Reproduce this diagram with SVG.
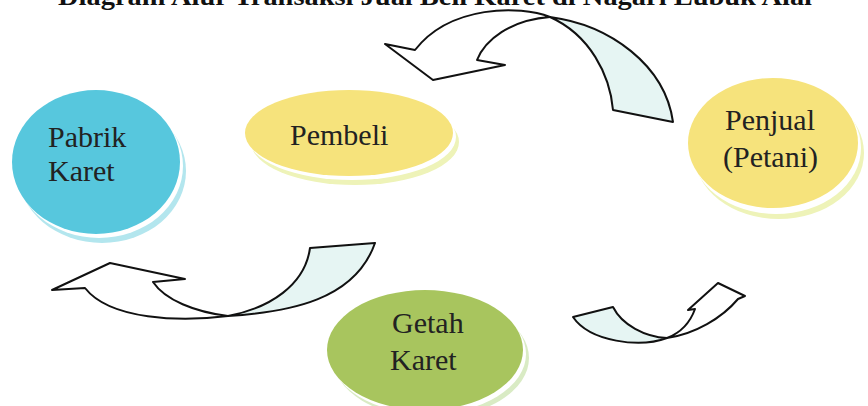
<svg xmlns="http://www.w3.org/2000/svg" width="868" height="406" viewBox="0 0 868 406">
<style>
.lbl{font-family:"Liberation Serif","Times New Roman",serif;font-size:30px;fill:#222}
.title{font-family:"Liberation Serif","Times New Roman",serif;font-size:26px;font-weight:bold;fill:#111}
.arr{stroke:#111;stroke-width:2;stroke-linejoin:round}
.back{fill:#e6f5f3}
.front{fill:#ffffff}
.gap{fill:#ffffff}
</style>
<rect width="868" height="406" fill="#ffffff"/>
<text class="title" x="58" y="5" textLength="754" lengthAdjust="spacingAndGlyphs">Diagram Alur Transaksi Jual Beli Karet di Nagari Lubuk Alai</text>

<g id="node-pabrik">
<ellipse cx="102" cy="171" rx="84" ry="72" fill="#b3e6ee"/>
<ellipse cx="99" cy="166" rx="84" ry="72" class="gap"/>
<ellipse cx="96" cy="162" rx="84" ry="72" fill="#57c7dd"/>
<text class="lbl" x="48" y="147">Pabrik</text>
<text class="lbl" x="48" y="181">Karet</text>
</g>

<g id="node-pembeli">
<ellipse cx="355" cy="142" rx="104" ry="43" fill="#eef3b8"/>
<ellipse cx="352" cy="137" rx="104" ry="43" class="gap"/>
<ellipse cx="349" cy="133" rx="104" ry="43" fill="#f6e37c"/>
<text class="lbl" x="290" y="145">Pembeli</text>
</g>

<g id="node-penjual">
<ellipse cx="779" cy="153" rx="85" ry="66" fill="#eef3b8"/>
<ellipse cx="776" cy="148" rx="85" ry="66" class="gap"/>
<ellipse cx="773" cy="143" rx="85" ry="65" fill="#f6e37c"/>
<text class="lbl" x="725" y="130">Penjual</text>
<text class="lbl" x="723" y="167">(Petani)</text>
</g>

<g id="node-getah">
<ellipse cx="431" cy="358" rx="98" ry="60" fill="#d9ebc4"/>
<ellipse cx="428" cy="354" rx="98" ry="60" class="gap"/>
<ellipse cx="425" cy="350" rx="98" ry="60" fill="#a8c55e"/>
<text class="lbl" x="392" y="333">Getah</text>
<text class="lbl" x="390" y="370">Karet</text>
</g>

<g id="connectors">
<g id="arrow-top">
<path class="arr back" d="M550,17 C610,25 665,65 673,122 L613,110 C610,75 590,35 550,17 Z"/>
<path class="arr front" d="M550,17 C520,5 450,5 415,50 L385,44 L433,80 L505,65 L477,60 C485,40 510,20 550,17 Z"/>
</g>
<g id="arrow-left">
<path class="arr back" d="M228,316 C290,312 355,300 375,243 L310,248 C305,285 270,308 228,316 Z"/>
<path class="arr front" d="M228,316 C180,322 110,320 85,288 L52,290 L110,263 L185,279 L153,282 C165,300 195,312 228,316 Z"/>
</g>
<g id="arrow-right">
<path class="arr back" d="M667,338 C640,348 590,342 573,317 L613,307 C622,325 645,337 667,338 Z"/>
<path class="arr front" d="M667,338 C695,334 722,318 738,299 L745,296 L718,283 L688,310 L695,309 C690,323 680,333 667,338 Z"/>
</g>
</g>
</svg>
